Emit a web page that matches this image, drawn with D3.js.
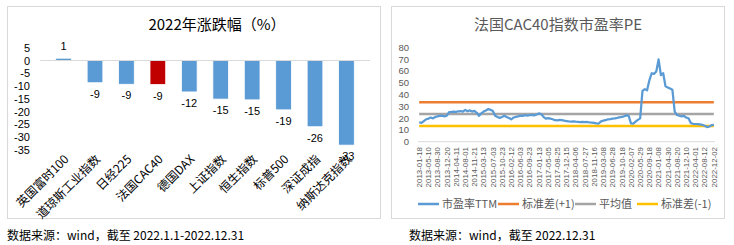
<!DOCTYPE html>
<html>
<head>
<meta charset="utf-8">
<script src="https://cdn.jsdelivr.net/npm/d3@7"></script>
<style>
  body { margin: 0; background: #fff; }
  text { font-family: "Microsoft YaHei", "Noto Sans CJK SC", "DejaVu Sans", sans-serif; }
  .num text, text.num { font-family: "Liberation Sans", Arial, sans-serif; }
</style>
</head>
<body>
<div class="chart"></div>
<script>
// left chart: 2022 returns
var indices = ["英国富时100", "道琼斯工业指数", "日经225", "法国CAC40", "德国DAX",
               "上证指数", "恒生指数", "标普500", "深证成指", "纳斯达克指数"];
var returns = [0.9, -8.7, -9.3, -9.4, -12.3, -15.1, -15.4, -19.3, -25.9, -33.1];
var highlight = "法国CAC40";
var returnTicks = [5, 0, -5, -10, -15, -20, -25, -30, -35];

// right chart: CAC40 PE (TTM), sampled every 4 weeks
var peDates = ["2013-01-18", "2013-05-10", "2013-08-30", "2013-12-20", "2014-04-11", "2014-08-01",
               "2014-11-21", "2015-03-13", "2015-07-03", "2015-10-23", "2016-02-12", "2016-06-03",
               "2016-09-23", "2017-01-13", "2017-05-05", "2017-08-25", "2017-12-15", "2018-04-06",
               "2018-07-27", "2018-11-16", "2019-03-08", "2019-06-28", "2019-10-18", "2020-02-07",
               "2020-05-29", "2020-09-18", "2021-01-08", "2021-04-30", "2021-08-20", "2021-12-10",
               "2022-04-01", "2022-08-12", "2022-12-02"];
var peValues = [16.5, 16, 17.5, 19, 19.5, 20.5, 19.8, 21, 21.5, 21.8,
                22, 21.5, 22, 25, 25.2, 25.5, 25.3, 25.8, 26, 25.5,
                27, 25.8, 26.5, 25.5, 26.2, 24.5, 22, 24, 25.5, 26.5,
                27.7, 27, 26, 22, 21, 20.2, 21, 22, 21, 20,
                19, 20.5, 21, 21.5, 22, 21.8, 22.5, 22, 22.5, 22.8,
                22.3, 23, 24, 23.5, 21, 19.5, 20, 19.5, 19, 18.2,
                18, 18.5, 18.2, 17.8, 17.5, 17.2, 17, 17.3, 17, 16.8,
                16.6, 16.8, 16.5, 16.7, 16.4, 16.2, 16, 15.5, 15.4, 17.2,
                17.8, 18.2, 19, 19.2, 19.5, 19.8, 20.2, 20.7, 21, 21.5,
                22.3, 22, 15.5, 15.3, 17, 18.5, 19.8, 43, 44.5, 43.5,
                52, 58, 57.5, 59.5, 69.8, 56.5, 58, 47, 46, 45,
                44, 25.4, 22.6, 22, 21.5, 21.8, 20.5, 19.8, 15.8, 15.2,
                15, 14.8, 14.6, 14.3, 13.5, 12.4, 12.8, 14, 14.2];
var peMean = 23.4, peStdUp = 33.4, peStdDown = 13.4;
var peTicks = [0, 10, 20, 30, 40, 50, 60, 70, 80];
var legendNames = ["市盈率TTM", "标准差(+1)", "平均值", "标准差(-1)"];
var legendColors = ["#5B9BD5", "#ED7D31", "#A5A5A5", "#FFC000"];

var svg = d3.select(".chart")
  .append("svg")
    .attr("width", 734)
    .attr("height", 245);

// panel frames
svg.append("rect").attr("x", 7.5).attr("y", 6.5).attr("width", 373).attr("height", 212)
    .attr("fill", "none").attr("stroke", "#D9D9D9");
svg.append("rect").attr("x", 391.5).attr("y", 6.5).attr("width", 333).attr("height", 212)
    .attr("fill", "none").attr("stroke", "#D9D9D9");

// ---------- left: bar chart ----------
var x = d3.scaleBand()
    .domain(indices)
    .range([40, 370])
    .padding(0.5);

var y = d3.scaleLinear()
    .domain([5, -35])
    .range([47.7, 150]);

svg.append("text")
    .attr("x", 217).attr("y", 30)
    .attr("text-anchor", "middle")
    .attr("font-size", "15px")
    .attr("fill", "#000")
    .text("2022年涨跌幅（%）");

var yaxis = d3.axisLeft(y)
    .tickValues(returnTicks)
    .tickFormat(function(d) { return String(d); })
    .tickSize(0).tickPadding(0);
var gy = svg.append("g")
    .attr("class", "num")
    .attr("transform", "translate(30,0)")
    .call(yaxis);
gy.select(".domain").remove();
gy.selectAll("text").attr("font-size", "11px").attr("fill", "#000");

svg.append("g").selectAll("rect")
    .data(returns)
    .enter()
    .append("rect")
    .attr("x", function(d, i) { return x(indices[i]); })
    .attr("y", function(d) { return y(Math.max(d, 0)); })
    .attr("width", x.bandwidth())
    .attr("height", function(d) { return Math.abs(y(d) - y(0)); })
    .attr("fill", function(d, i) { return indices[i] == highlight ? "#C00000" : "#5B9BD5"; })
    .attr("stroke", "#fff")
    .attr("stroke-width", 0.8);

svg.append("line")
    .attr("x1", x.range()[0]).attr("x2", x.range()[1])
    .attr("y1", y(0)).attr("y2", y(0))
    .attr("stroke", "#D9D9D9");

svg.append("g").attr("class", "num").selectAll("text")
    .data(returns)
    .enter()
    .append("text")
    .attr("x", function(d, i) { return x(indices[i]) + x.bandwidth() / 2; })
    .attr("y", function(d) { return d >= 0 ? y(d) - 8 : y(d) + 15; })
    .attr("text-anchor", "middle")
    .attr("font-size", "11px")
    .attr("fill", "#000")
    .text(function(d) { return String(Math.round(d)); });

svg.append("g").selectAll("text")
    .data(indices)
    .enter()
    .append("text")
    .attr("transform", function(d) {
        return "translate(" + (x(d) + x.bandwidth() / 2 + 3) + ",157) rotate(-45)";
    })
    .attr("text-anchor", "end")
    .attr("dy", "0.35em")
    .attr("font-size", "12px")
    .attr("fill", "#000")
    .text(function(d) { return d; });

svg.append("text")
    .attr("x", 7).attr("y", 240)
    .attr("font-size", "12px")
    .attr("fill", "#000")
    .text("数据来源：wind，截至 2022.1.1-2022.12.31");

// ---------- right: PE line chart ----------
var x2 = d3.scaleLinear()
    .domain([-0.5, peValues.length - 0.5])
    .range([418, 715]);

var y2 = d3.scaleLinear()
    .domain([0, 80])
    .range([141.7, 47.3]);

svg.append("text")
    .attr("x", 558).attr("y", 30)
    .attr("text-anchor", "middle")
    .attr("font-size", "15px")
    .attr("fill", "#595959")
    .text("法国CAC40指数市盈率PE");

var yaxis2 = d3.axisLeft(y2).tickValues(peTicks).tickSize(0).tickPadding(0);
var gy2 = svg.append("g")
    .attr("class", "num")
    .attr("transform", "translate(409,0)")
    .call(yaxis2);
gy2.select(".domain").remove();
gy2.selectAll("text").attr("font-size", "9.5px").attr("fill", "#595959");

svg.append("line")
    .attr("x1", 418).attr("x2", 715)
    .attr("y1", y2(0)).attr("y2", y2(0))
    .attr("stroke", "#D9D9D9");

svg.append("g").attr("class", "num").selectAll("text")
    .data(peDates)
    .enter()
    .append("text")
    .attr("transform", function(d, i) {
        return "translate(" + x2(i * 4) + ",147) rotate(-90)";
    })
    .attr("text-anchor", "end")
    .attr("dy", "0.35em")
    .attr("font-size", "7.9px")
    .attr("fill", "#595959")
    .text(function(d) { return d; });

var flat = [peStdUp, peMean, peStdDown];
var flatColors = ["#ED7D31", "#A5A5A5", "#FFC000"];
svg.append("g").selectAll("line")
    .data(flat)
    .enter()
    .append("line")
    .attr("x1", x2(0)).attr("x2", x2(peValues.length - 1))
    .attr("y1", function(d) { return y2(d); })
    .attr("y2", function(d) { return y2(d); })
    .attr("stroke", function(d, i) { return flatColors[i]; })
    .attr("stroke-width", 2.5);

var line = d3.line()
    .x(function(d, i) { return x2(i); })
    .y(function(d) { return y2(d); });

svg.append("path")
    .datum(peValues)
    .attr("fill", "none")
    .attr("stroke", "#5B9BD5")
    .attr("stroke-width", 2.25)
    .attr("stroke-linejoin", "round")
    .attr("d", line);

var legendX = [418, 498, 575, 637];
var legend = svg.append("g").selectAll("g")
    .data(legendNames)
    .enter()
    .append("g")
    .attr("transform", function(d, i) { return "translate(" + legendX[i] + ",204)"; });
legend.append("line")
    .attr("x1", 0).attr("x2", 21)
    .attr("stroke", function(d, i) { return legendColors[i]; })
    .attr("stroke-width", 2.5);
legend.append("text")
    .attr("x", 24).attr("dy", "0.35em")
    .attr("font-size", "11px")
    .attr("fill", "#595959")
    .text(function(d) { return d; });

svg.append("text")
    .attr("x", 409).attr("y", 240)
    .attr("font-size", "12px")
    .attr("fill", "#000")
    .text("数据来源：wind，截至 2022.12.31");
</script>
</body>
</html>
